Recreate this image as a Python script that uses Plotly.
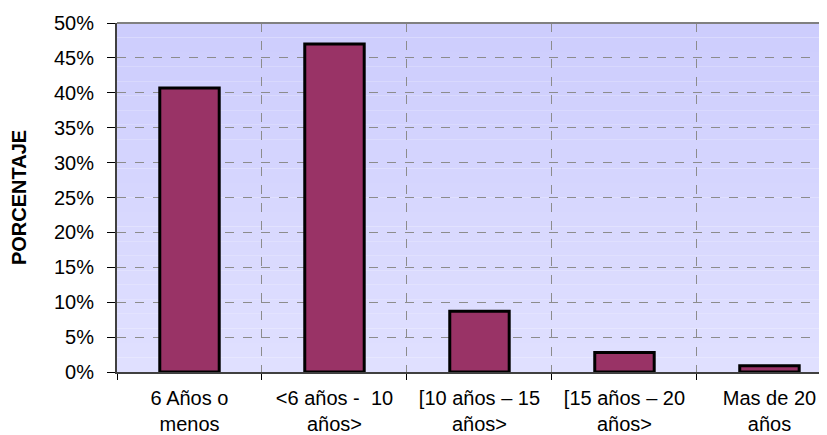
import plotly.graph_objects as go

# Datos
categorias = ["6 Años o menos", "<6 años - 10 años>", "[10 años – 15 años>",
              "[15 años – 20 años>", "Mas de 20 años"]
etiquetas = ["6 Años o<br>menos",
             "&lt;6 años -\u00a0\u00a010<br>años&gt;",
             "[10 años – 15<br>años&gt;",
             "[15 años – 20<br>años&gt;",
             "Mas de 20<br>años"]
porcentajes = [0.407, 0.470, 0.087, 0.028, 0.009]

fig = go.Figure()

fig.add_trace(go.Bar(
    x=categorias,
    y=porcentajes,
    width=0.41,
    marker=dict(color="#993366", line=dict(color="black", width=3)),
    hoverinfo="x+y",
))

# Fondo con degradado (bandas horizontales)
shapes = []
n = 24
top = (205, 205, 253)
bot = (224, 224, 255)
for i in range(n):
    f = i / (n - 1)
    c = tuple(round(bot[k] + (top[k] - bot[k]) * f) for k in range(3))
    shapes.append(dict(
        type="rect", xref="x domain", yref="y domain",
        x0=0, x1=1, y0=i / n, y1=(i + 1) / n,
        fillcolor="rgb(%d,%d,%d)" % c, line=dict(width=0), layer="below",
    ))
# Borde superior
shapes.append(dict(type="line", xref="x domain", yref="y domain",
                   x0=0, x1=1, y0=1, y1=1,
                   line=dict(color="#808080", width=2)))

# la pagina tiene 8px de margen en el body, se compensa aqui
fig.update_layout(
    width=827, height=435,
    margin=dict(l=109, r=0, t=15, b=71),
    paper_bgcolor="white",
    plot_bgcolor="rgba(0,0,0,0)",
    font=dict(family="Liberation Sans, Arial, sans-serif", size=20, color="black"),
    showlegend=False,
    shapes=shapes,
)

fig.update_xaxes(
    type="category",
    tickmode="array", tickvals=categorias, ticktext=etiquetas,
    range=[-0.5, 4.452],
    tickson="boundaries",
    ticks="outside", ticklen=6, tickcolor="black",
    ticklabelstandoff=7,
    showgrid=True, gridcolor="#8c8c8c", griddash="dash", gridwidth=1,
    showline=True, linecolor="#404040", linewidth=2,
    automargin=False,
    layer="above traces",
)

fig.update_yaxes(
    range=[0, 0.5], dtick=0.05, tickformat=".0%",
    ticks="outside", ticklen=8, tickcolor="black",
    ticklabelstandoff=9,
    showgrid=True, gridcolor="#8c8c8c", griddash="dash", gridwidth=1,
    showline=True, linecolor="#404040", linewidth=2,
    zeroline=False,
    automargin=False,
    title=dict(text="<b>PORCENTAJE</b>", font=dict(size=20), standoff=25),
)

fig.write_html("out.html")
